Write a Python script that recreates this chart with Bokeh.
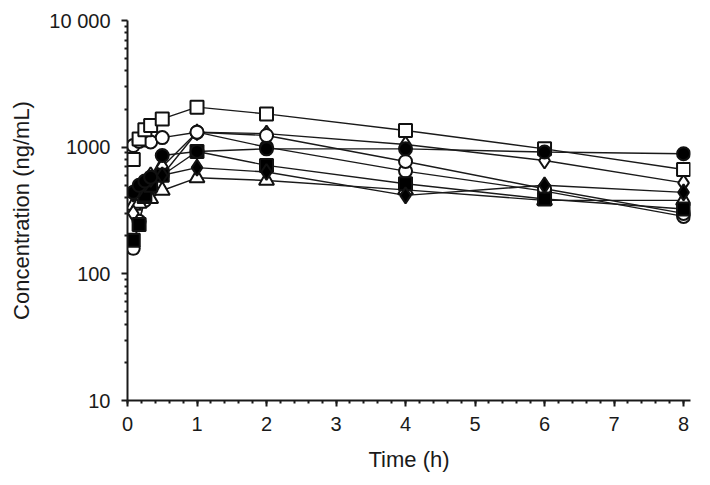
from bokeh.plotting import figure
from bokeh.models import Range1d, FixedTicker, SingleIntervalTicker
from bokeh.embed import file_html
from bokeh.resources import INLINE

# Sampling times (h)
time_h = [0.083, 0.167, 0.25, 0.333, 0.5, 1, 2, 4, 6, 8]

# Concentrations (ng/mL), one list per subject
s_open_square = [800, 1160, 1370, 1480, 1670, 2070, 1830, 1355, 970, 667]
s_open_circle1 = [1030, 1110, 1140, 1100, 1190, 1313, 1236, 771, 470, 300]
s_open_circle2 = [159, 260, 380, 480, 600, 1313, 1000, 647, 450, 284]
s_open_diamond = [300, 420, 520, 600, 700, 1313, 1280, 1050, 785, 522]
s_open_triangle = [347, 360, 392, 392, 455, 573, 546, 460, 380, 380]
s_filled_circle = [440, 500, 540, 580, 860, 925, 970, 970, 915, 888]
s_filled_square = [184, 245, 420, 500, 600, 925, 718, 514, 390, 325]
s_filled_diamond = [430, 470, 520, 560, 600, 689, 636, 416, 500, 440]

series = [
    (s_open_circle2, "circle", 13, "white"),
    (s_open_triangle, "triangle", 15, "white"),
    (s_open_diamond, "diamond", 16, "white"),
    (s_open_circle1, "circle", 13, "white"),
    (s_open_square, "square", 13, "white"),
    (s_filled_square, "square", 13, "black"),
    (s_filled_diamond, "diamond", 16, "black"),
    (s_filled_circle, "circle", 13, "black"),
]

y_major = [10, 100, 1000, 10000]
y_minor = [m * d for d in (10, 100, 1000) for m in range(2, 10)]

p = figure(width=694, height=482, y_axis_type="log",
           x_range=Range1d(0, 8.1), y_range=Range1d(10, 10000),
           output_backend="svg", toolbar_location=None,
           min_border_left=127, min_border_right=4,
           min_border_top=20, min_border_bottom=82)

p.grid.visible = False
p.outline_line_color = None
p.background_fill_color = "white"
p.border_fill_color = "white"

for ys, _, _, _ in series:
    p.line(time_h, ys, line_color="#1a1a1a", line_width=1.4)

for ys, mk, sz, fc in series:
    p.scatter(time_h, ys, marker=mk, size=sz, fill_color=fc,
              line_color="#111111", line_width=2)

font = "Liberation Sans"

p.xaxis.ticker = SingleIntervalTicker(interval=1, num_minor_ticks=5)
p.yaxis.ticker = FixedTicker(ticks=y_major, minor_ticks=y_minor)
p.yaxis.major_label_overrides = {10: "10", 100: "100", 1000: "1000", 10000: "10 000"}

for ax in (p.xaxis[0], p.yaxis[0]):
    ax.axis_line_width = 2
    ax.axis_line_color = "#1a1a1a"
    ax.major_tick_line_color = "#1a1a1a"
    ax.minor_tick_line_color = "#1a1a1a"
    ax.major_tick_line_width = 2
    ax.minor_tick_line_width = 2
    ax.major_tick_out = 6
    ax.major_tick_in = 0
    ax.minor_tick_out = 3
    ax.minor_tick_in = 0
    ax.major_label_text_font = font
    ax.major_label_text_font_size = "20px"
    ax.major_label_text_color = "#1a1a1a"
    ax.axis_label_text_font = font
    ax.axis_label_text_font_size = "22px"
    ax.axis_label_text_font_style = "normal"
    ax.axis_label_text_color = "#1a1a1a"

p.xaxis.axis_label = "Time (h)"
p.yaxis.axis_label = "Concentration (ng/mL)"
p.xaxis.major_label_standoff = 10
p.yaxis.major_label_standoff = 11
p.xaxis.axis_label_standoff = 13
p.yaxis.axis_label_standoff = 12

open("out.html", "w").write(file_html(p, INLINE))
